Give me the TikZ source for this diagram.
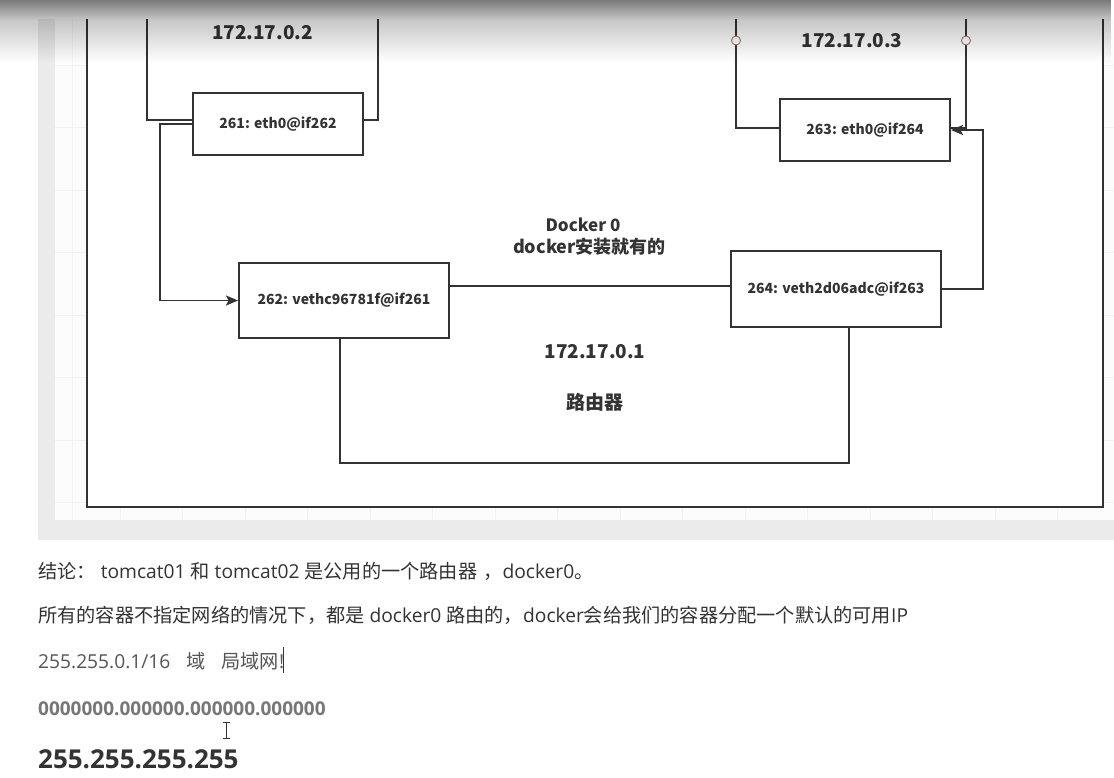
\documentclass[tikz,border=0pt]{standalone}
\usepackage{fontspec}
\setmainfont{Open Sans}
\newfontfamily\cjk{Noto Sans CJK SC}
\usetikzlibrary{arrows.meta,fadings,calc}
\definecolor{ink}{HTML}{333333}
\definecolor{canvasgray}{HTML}{EBEBEC}
\definecolor{gridbg}{HTML}{FCFCFD}
\definecolor{gridline}{HTML}{F2F2F4}
\definecolor{handle}{HTML}{A07A7A}
\definecolor{txtA}{HTML}{333333}
\definecolor{txtB}{HTML}{555555}
\definecolor{txtC}{HTML}{777777}
\tikzfading[name=fadeA, top color=transparent!0, bottom color=transparent!58]
\tikzfading[name=fadeB, top color=transparent!0, bottom color=transparent!100]
\newcommand{\zh}[1]{{\cjk #1}}
\tikzset{
  ln/.style={draw=ink, line width=1.9pt},
  box/.style={ln, fill=white, inner sep=0pt, text=ink,
    font=\cjk\bfseries\fontsize{14}{14}\selectfont},
  arr/.style={ln, -{Stealth[length=12pt,width=10pt,inset=2.5pt]}},
  iplabel/.style={anchor=base, text=ink, inner sep=0pt,
    font=\cjk\bfseries\fontsize{19}{19}\selectfont},
  midlabel/.style={anchor=base, text=ink, inner sep=0pt,
    font=\cjk\bfseries\fontsize{18}{18}\selectfont},
  handledot/.style={circle, draw=handle, line width=0.9pt, fill=white,
    inner sep=0pt, minimum size=9pt},
  noteline/.style={anchor=base west, inner sep=0pt,
    font=\fontsize{19.2}{19.2}\selectfont},
}
\begin{document}
\begin{tikzpicture}[x=1pt,y=-1pt]
\useasboundingbox (0,0) rectangle (1114,777);
\fill[white] (0,0) rectangle (1114,777);
% canvas
\fill[canvasgray] (38,19) rectangle (1114,540);
\fill[gridbg] (55,19) rectangle (1114,520);
\foreach \x in {72,120,182.5,245,307.5,370,432.5,495,557.5,620,682.5,745,807.5,870,932.5,995,1057.5}
  \draw[gridline, line width=0.8pt] (\x,19) -- (\x,520);
\foreach \y in {65,127.5,190,252.5,315,377.5,440,502.5}
  \draw[gridline, line width=0.8pt] (55,\y) -- (1114,\y);
% outer frame
\coordinate (fTL) at (87,19);
\coordinate (fBL) at (87,507);
\coordinate (fBR) at (1103,507);
\coordinate (fTR) at (1103,19);
\draw[ln, fill=white] (fTL) -- (fBL) -- (fBR) -- (fTR);
% container edges
\coordinate (c1a) at (147,19);
\coordinate (c1b) at (378,19);
\coordinate (c2a) at (736,19);
\coordinate (c2b) at (966,19);
% boxes
\node[box, minimum width=170pt, minimum height=62pt] (b261) at (278,124) {261: eth0@if262};
\node[box, minimum width=170pt, minimum height=62pt] (b263) at (865,130) {263: eth0@if264};
\node[box, minimum width=210pt, minimum height=75pt] (b262) at (344,300.5) {262: vethc96781f@if261};
\node[box, minimum width=210pt, minimum height=76pt] (b264) at (836,289) {264: veth2d06adc@if263};
% container lines
\draw[ln] (c1a) |- ([yshift=4pt]b261.west);
\draw[ln] (c1b) |- ([yshift=4pt]b261.east);
\draw[ln] (c2a) |- ([yshift=2pt]b263.west);
\draw[ln] (c2b) |- ([yshift=2pt]b263.east);
% connectors
\draw[arr] (b261.west) -- ++(-32,0) |- (b262.west);
\draw[ln] ([yshift=14.5pt]b262.east) coordinate (l1) -- (l1 -| b264.west);
\draw[arr] (b264.east) -- ++(41,0) |- (b263.east);
\draw[ln] ([xshift=-4pt]b262.south) -- ++(0,124) -| ([xshift=13pt]b264.south);
% handles
\node[handledot] (h1) at (736,40.5) {};
\node[handledot] (h2) at (966,40.5) {};
% labels
\node[iplabel] (ip2) at (262.5,39) {172.17.0.2};
\node[iplabel] (ip3) at (852,47) {172.17.0.3};
\node[midlabel, font=\cjk\bfseries\fontsize{17}{17}\selectfont] (d0) at (583,231) {Docker 0};
\node[midlabel] (d1) at (589.5,253) {docker安装就有的};
\node[iplabel] (ip1) at (595,358) {172.17.0.1};
\node[midlabel, font=\cjk\bfseries\fontsize{19}{19}\selectfont] (rt) at (595,409) {路由器};
% notes
\node[noteline, text=txtA] (n1) at (38,578) {\zh{结论：} tomcat01 \zh{和} tomcat02 \zh{是公用的一个路由器}\hspace{6pt}\zh{，}docker0\zh{。}};
\node[noteline, text=txtA] (n2) at (38,622) {\zh{所有的容器不指定网络的情况下，都是} docker0 \zh{路由的，}docker\zh{会给我们的容器分配一个默认的可用}IP};
\node[noteline, text=txtB] (n3) at (38,668) {255.255.0.1/16\hspace{16pt}\zh{域}\hspace{16pt}\zh{局域网}!};
\draw[ink, line width=0.9pt] (283,647) -- (283,673);
\node[noteline, text=txtC, font=\bfseries\fontsize{19}{19}\selectfont] (n4) at (38,715) {0000000.000000.000000.000000};
\draw[ink, line width=0.8pt] (222.5,722) -- (229.5,722) (226,722) -- (226,738) (222.5,738) -- (229.5,738);
\node[noteline, text=txtA, font=\bfseries\fontsize{26}{26}\selectfont] (n5) at (38,768) {255.255.255.255};
% top shadow
\fill[black, fill opacity=0.52, path fading=fadeA] (0,0) rectangle (1114,20);
\fill[black, fill opacity=0.22, path fading=fadeB] (0,20) rectangle (1114,62);
\end{tikzpicture}
\end{document}
